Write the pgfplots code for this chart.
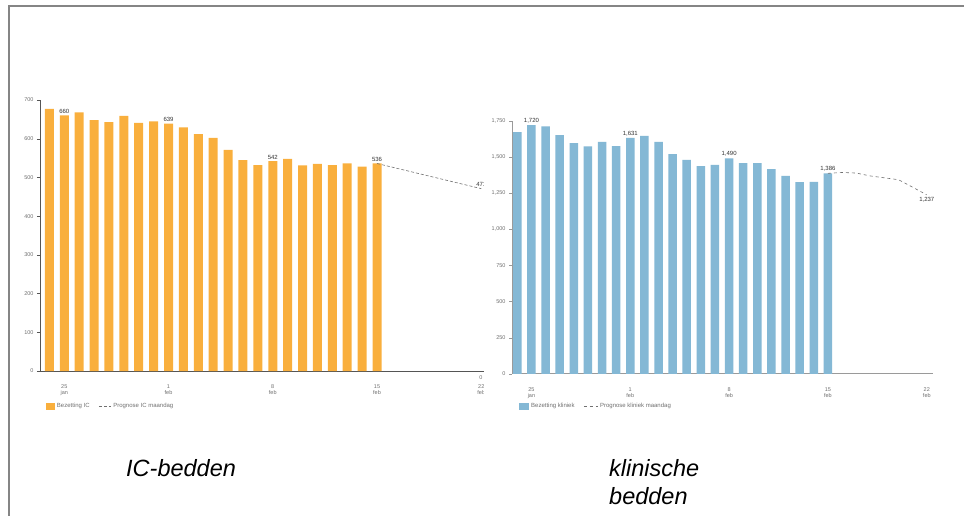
\documentclass[border=0pt]{standalone}
\usepackage{pgfplots}
\pgfplotsset{compat=1.18}
\usepackage{fontspec}
\setmainfont{Liberation Sans}
\definecolor{icorange}{HTML}{F9AF3D}
\definecolor{klblue}{HTML}{84B8D5}
\definecolor{axgray}{HTML}{555555}
\definecolor{axlight}{HTML}{9A9A9A}
\definecolor{txtgray}{HTML}{707070}
\definecolor{lblgray}{HTML}{333333}
\definecolor{framegray}{HTML}{858585}

\pgfplotsset{
  chartbase/.style={
    scale only axis,
    axis lines*=left,
    tick align=outside,
    major tick length=3pt,
    xtick style={draw=none},
    clip=false,
    /pgf/number format/1000 sep={,},
    /pgf/number format/assume math mode=true,
    yticklabel style={font=\fontsize{5.5}{6}\selectfont, text=txtgray},
    xticklabel style={font=\fontsize{5.5}{6.5}\selectfont, text=txtgray, align=center},
    xticklabel shift={7pt},
    xtick={1,8,15,22,29},
    xticklabels={{25\\jan},{1\\feb},{8\\feb},{15\\feb},{22\\feb}},
    legend columns=2,
    legend style={draw=none, fill=none, inner sep=0pt,
      font=\fontsize{6}{7}\selectfont, text=txtgray,
      legend cell align=left,
      /tikz/every even column/.append style={column sep=7pt}},
  },
  lbl/.style={draw=none, mark=none, nodes near coords, point meta=explicit symbolic,
    nodes near coords style={font=\fontsize{6}{7}\selectfont, text=lblgray, inner sep=1.5pt}},
}

\begin{document}
\begin{tikzpicture}[x=1pt,y=1pt]
\path[use as bounding box] (0,0) rectangle (964,-516);
\draw[framegray, line width=2pt] (9,-516) -- (9,-6) -- (964,-6);

% ---------------- IC chart ----------------
\begin{axis}[chartbase,
  width=445pt, height=271pt,
  at={(40pt,-371pt)}, anchor=south west,
  xmin=-0.63, xmax=29.25, ymin=0, ymax=700,
  ytick={0,100,...,700},
  axis line style={draw=axgray, line width=0.8pt},
  ytick style={draw=axgray},
  legend style={at={(0.013,-0.111)}, anchor=north west},
]
\addplot[ybar, bar width=9pt, fill=icorange, draw=none,
  legend image code/.code={\fill[icorange] (0pt,-3.5pt) rectangle (9pt,3.5pt);}]
  coordinates {
  (0,677) (1,660) (2,668) (3,648) (4,643) (5,659) (6,641) (7,645)
  (8,639) (9,629) (10,612) (11,602) (12,571) (13,545) (14,532) (15,542)
  (16,548) (17,531) (18,535) (19,532) (20,536) (21,528) (22,536)};
\addlegendentry{Bezetting IC}
\addplot[txtgray, densely dashed, line width=0.6pt,
  legend image code/.code={\draw[txtgray, densely dashed, line width=0.6pt] (0pt,0pt) -- (12pt,0pt);}]
  coordinates {(22,536) (29,471)};
\addlegendentry{Prognose IC maandag}
\addplot[lbl, forget plot] coordinates {(1,660)[660] (8,639)[639] (15,542)[542] (22,536)[536] (29,471)[471]};
\end{axis}
\node[font=\fontsize{5.5}{6}\selectfont, text=txtgray] at (481,-378) {0};

% cover (right picture overlaps the left one)
\fill[white] (484,-90) rectangle (963,-425);

% ---------------- klinische chart ----------------
\begin{axis}[chartbase,
  width=421pt, height=253.1pt,
  at={(512pt,-373.8pt)}, anchor=south west,
  xmin=-0.375, xmax=29.44, ymin=0, ymax=1750,
  ytick={0,250,...,1750},
  axis line style={draw=axlight, line width=0.8pt},
  ytick style={draw=axlight},
  legend style={at={(0.0166,-0.1075)}, anchor=north west},
]
\addplot[ybar, bar width=8.5pt, fill=klblue, draw=none,
  legend image code/.code={\fill[klblue] (0pt,-3.5pt) rectangle (10pt,3.5pt);}]
  coordinates {
  (0,1671) (1,1720) (2,1710) (3,1650) (4,1595) (5,1572) (6,1604) (7,1574)
  (8,1631) (9,1645) (10,1604) (11,1519) (12,1480) (13,1436) (14,1445) (15,1490)
  (16,1457) (17,1457) (18,1415) (19,1369) (20,1325) (21,1327) (22,1386)};
\addlegendentry{Bezetting kliniek}
\addplot[txtgray, dashed, line width=0.6pt,
  legend image code/.code={\draw[txtgray, dashed, line width=0.6pt] (0pt,0pt) -- (14pt,0pt);}]
  coordinates {(22,1386) (23,1392) (24,1388) (25,1368) (26,1355) (27,1342) (28,1290) (29,1237)};
\addlegendentry{Prognose kliniek maandag}
\addplot[lbl, forget plot] coordinates {(1,1720)[1,720] (8,1631)[1,631] (15,1490)[1,490] (22,1386)[1,386]};
\addplot[lbl, forget plot, nodes near coords style={anchor=north, inner sep=2.5pt}] coordinates {(29,1237)[1,237]};
\end{axis}

% ---------------- captions ----------------
\node[font=\fontsize{23.5}{28}\selectfont\itshape, anchor=base west, inner sep=0pt] at (126,-476) {IC-bedden};
\node[font=\fontsize{23.5}{28}\selectfont\itshape, anchor=base west, inner sep=0pt] at (609,-476) {klinische};
\node[font=\fontsize{23.5}{28}\selectfont\itshape, anchor=base west, inner sep=0pt] at (609,-504) {bedden};
\end{tikzpicture}
\end{document}
